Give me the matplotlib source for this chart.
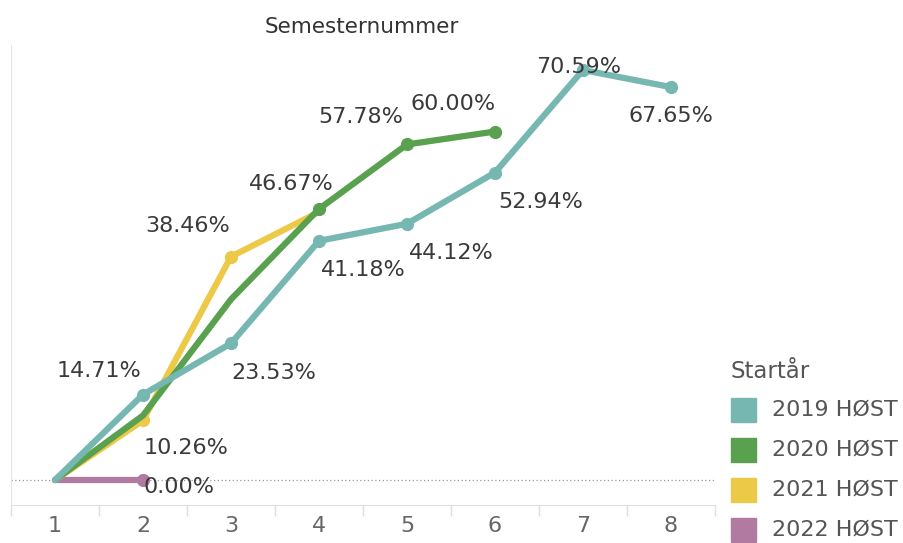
import matplotlib.pyplot as plt
from matplotlib.patches import Rectangle

semesters = [1, 2, 3, 4, 5, 6, 7, 8]

names = ['2019 HØST', '2020 HØST', '2021 HØST', '2022 HØST']
colors = ['#76b7b2', '#59a14f', '#edc948', '#b07aa1']

v2019 = [0.0, 14.71, 23.53, 41.18, 44.12, 52.94, 70.59, 67.65]
v2020 = [0.0, 11.11, 31.11, 46.67, 57.78, 60.00]
v2021 = [0.0, 10.26, 38.46, 46.15]
v2022 = [0.0, 0.00]

# which points get a marker and a label, with label offset (points)
lab2019 = {2: (-32, 17), 3: (31, -21), 4: (32, -21), 5: (32, -21), 6: (33, -21), 7: (-3, 2), 8: (0, -21)}
lab2020 = {4: (-20, 18), 5: (-33, 20), 6: (-30, 20)}
lab2021 = {2: (31, -20), 3: (-31, 22)}
lab2022 = {2: (26, -5)}

series = [v2022, v2021, v2020, v2019]
labels = [lab2022, lab2021, lab2020, lab2019]
cols = [colors[3], colors[2], colors[1], colors[0]]

fig = plt.figure(figsize=(9.04, 5.43), dpi=100)
ax = fig.add_axes([11 / 904, 38 / 543, 704 / 904, 460 / 543])

ax.axhline(0, color='#999999', lw=0.9, ls=(0, (1, 2)), zorder=1)

for k, (vals, labs, c) in enumerate(zip(series, labels, cols)):
    xs = semesters[:len(vals)]
    ax.plot(xs, vals, color=c, lw=4.5, solid_joinstyle='round', solid_capstyle='round', zorder=2 + k)
    mx = [x for x in xs if x in labs]
    my = [vals[x - 1] for x in mx]
    ax.plot(mx, my, 'o', color=c, ms=8.5, zorder=2 + k)
    for x in mx:
        ax.annotate(f'{vals[x - 1]:.2f}%', (x, vals[x - 1]), xytext=labs[x], textcoords='offset points',
                    ha='center', va='center', fontsize=16, color='#3a3a3a', zorder=10)

ax.set_xlim(0.5, 8.5)
ax.set_ylim(-4.3, 74.9)
ax.set_yticks([])
ax.set_xticks(semesters)
ax.set_xticks([x + 0.5 for x in range(0, 9)], minor=True)
ax.tick_params(axis='x', which='major', length=0, labelsize=16, labelcolor='#666666', pad=8)
ax.tick_params(axis='x', which='minor', length=8, color='#e0e0e0', width=1)
for s in ['top', 'right']:
    ax.spines[s].set_visible(False)
ax.spines['left'].set_color('#e6e6e6')
ax.spines['bottom'].set_color('#e0e0e0')

fig.text(362 / 904, 1 - 27 / 543, 'Semesternummer', ha='center', va='center', fontsize=15.5, color='#333333')

# legend
fig.text(731 / 904, 1 - 372 / 543, 'Startår', ha='left', va='center', fontsize=16.5, color='#555555')
for i, (n, c) in enumerate(zip(names, colors)):
    yc = 410 + i * 40
    fig.patches.append(Rectangle((731 / 904, 1 - (yc + 12) / 543), 25 / 904, 24 / 543,
                                 transform=fig.transFigure, color=c, figure=fig))
    fig.text(772 / 904, 1 - yc / 543, n, ha='left', va='center', fontsize=16, color='#555555')

fig.savefig('out.png')
